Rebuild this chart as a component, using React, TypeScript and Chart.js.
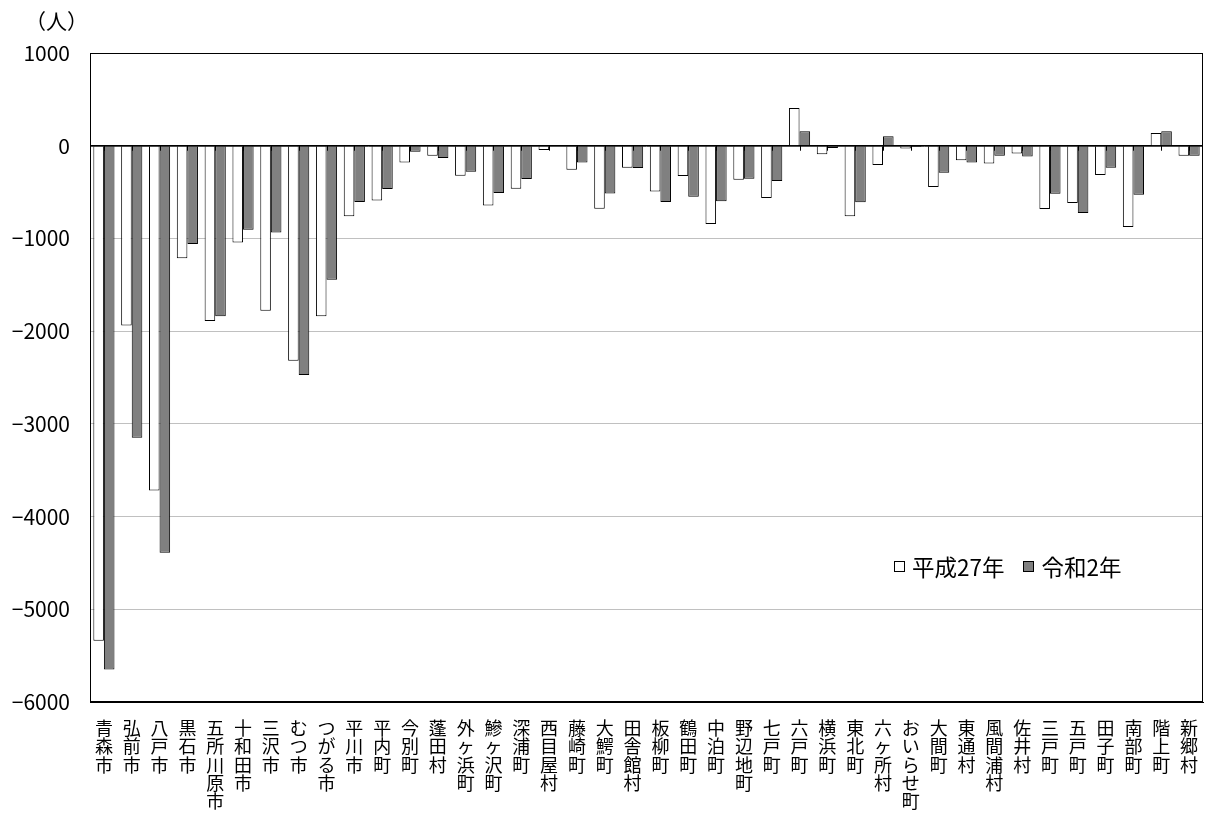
import { useEffect, useRef } from 'react'
import { Chart, ChartConfiguration, Plugin, registerables } from 'chart.js'

Chart.register(...registerables)

const categories = [
  '青森市', '弘前市', '八戸市', '黒石市', '五所川原市', '十和田市', '三沢市', 'むつ市', 'つがる市', '平川市',
  '平内町', '今別町', '蓬田村', '外ヶ浜町', '鰺ヶ沢町', '深浦町', '西目屋村', '藤崎町', '大鰐町', '田舎館村',
  '板柳町', '鶴田町', '中泊町', '野辺地町', '七戸町', '六戸町', '横浜町', '東北町', '六ヶ所村', 'おいらせ町',
  '大間町', '東通村', '風間浦村', '佐井村', '三戸町', '五戸町', '田子町', '南部町', '階上町', '新郷村',
]

const h27 = [
  -5340, -1940, -3720, -1215, -1890, -1043, -1780, -2320, -1840, -762,
  -590, -180, -108, -324, -644, -464, -47, -259, -680, -237,
  -493, -327, -845, -367, -565, 407, -93, -762, -208, -29,
  -446, -158, -191, -83, -683, -619, -316, -877, 137, -108,
]

const r2 = [
  -5650, -3150, -4390, -1060, -1840, -906, -935, -2474, -1445, -608,
  -467, -65, -133, -280, -510, -360, -7, -180, -515, -241,
  -608, -550, -600, -356, -381, 155, -25, -611, 101, -14,
  -292, -180, -108, -115, -518, -726, -237, -529, 155, -108,
]

const seriesNames = ['平成27年', '令和2年']
const yMin = -6000
const yMax = 1000

const FONT = '"Noto Sans CJK JP", "Noto Sans", sans-serif'

// plot frame + little ticks on the zero line
const framePlugin: Plugin = {
  id: 'frame',
  afterDatasetsDraw(chart) {
    const { ctx, chartArea, scales } = chart
    const y0 = scales.y.getPixelForValue(0)
    ctx.save()
    ctx.strokeStyle = '#000'
    ctx.lineWidth = 1
    ctx.beginPath()
    ctx.moveTo(chartArea.left, y0 + 0.5)
    ctx.lineTo(chartArea.right, y0 + 0.5)
    for (let i = 0; i < categories.length; i++) {
      const x = Math.round(scales.x.getPixelForValue(i)) + 0.5
      ctx.moveTo(x, y0)
      ctx.lineTo(x, y0 + 5)
    }
    ctx.stroke()
    ctx.strokeRect(chartArea.left + 0.5, chartArea.top + 0.5, chartArea.width - 1, chartArea.height - 1)
    ctx.restore()
  },
}

const App = () => {
  const canvasRef = useRef<HTMLCanvasElement>(null)
  const chartRef = useRef<Chart | null>(null)

  useEffect(() => {
    document.body.style.margin = '0'
    if (!canvasRef.current) return
    const ctx = canvasRef.current.getContext('2d')
    if (!ctx) return
    if (chartRef.current) chartRef.current.destroy()

    const config: ChartConfiguration = {
      type: 'bar',
      data: {
        labels: categories.map(c => c.split('')),
        datasets: [
          {
            label: seriesNames[0],
            data: h27,
            backgroundColor: '#ffffff',
            borderColor: '#000000',
            borderWidth: 1,
          },
          {
            label: seriesNames[1],
            data: r2,
            backgroundColor: '#808080',
            borderColor: '#000000',
            borderWidth: 1,
          },
        ],
      },
      options: {
        responsive: false,
        animation: false,
        layout: { padding: { top: 53, right: 5, left: 0, bottom: 0 } },
        datasets: {
          bar: { categoryPercentage: 0.76, barPercentage: 1 },
        },
        plugins: {
          legend: { display: false },
          tooltip: { enabled: false },
        },
        scales: {
          x: {
            grid: { display: false },
            border: { display: true, color: '#000' },
            ticks: {
              autoSkip: false,
              maxRotation: 0,
              minRotation: 0,
              padding: 9,
              color: '#000',
              font: { family: FONT, size: 18, lineHeight: 1.02 },
            },
            afterFit(scale) {
              scale.height = 116
            },
          },
          y: {
            min: yMin,
            max: yMax,
            grid: {
              drawTicks: false,
              color: c => (c.tick && (c.tick.value === 0 || c.tick.value === yMax || c.tick.value === yMin) ? '#000' : '#c0c0c0'),
            },
            border: { display: true, color: '#000' },
            ticks: {
              stepSize: 1000,
              padding: 20,
              color: '#000',
              font: { family: FONT, size: 21 },
              callback: v => String(v).replace('-', '−'),
            },
            afterFit(scale) {
              scale.width = 90
            },
          },
        },
      },
      plugins: [framePlugin],
    }

    chartRef.current = new Chart(ctx, config)
    return () => {
      if (chartRef.current) {
        chartRef.current.destroy()
        chartRef.current = null
      }
    }
  }, [])

  const legendText = { fontFamily: FONT, fontSize: 22.5, color: '#000', lineHeight: '26px' }

  return (
    <div style={{ position: 'relative', width: 1208, height: 818, background: '#fff' }}>
      <canvas ref={canvasRef} width={1208} height={818} style={{ display: 'block' }}></canvas>
      <div style={{ position: 'absolute', left: 25, top: 5, fontFamily: FONT, fontSize: 21, color: '#000' }}>
        （人）
      </div>
      <div style={{ position: 'absolute', left: 894, top: 553, display: 'flex', alignItems: 'center', whiteSpace: 'nowrap' }}>
        <span style={{ width: 9, height: 9, border: '1px solid #000', background: '#fff', marginRight: 7 }}></span>
        <span style={legendText}>{seriesNames[0]}</span>
        <span style={{ width: 9, height: 9, border: '1px solid #000', background: '#808080', marginLeft: 19, marginRight: 7 }}></span>
        <span style={legendText}>{seriesNames[1]}</span>
      </div>
    </div>
  )
}

export default App
